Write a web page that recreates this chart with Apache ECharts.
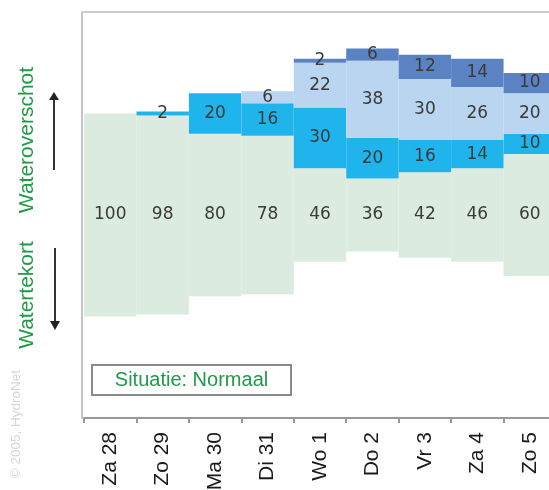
<!DOCTYPE html>
<html>
<head>
<meta charset="utf-8">
<title>Waterverwachting</title>
<script src="https://cdn.jsdelivr.net/npm/echarts@6/dist/echarts.min.js"></script>
<style>
  html, body { margin: 0; padding: 0; background: #ffffff; }
  #chart { width: 549px; height: 490px; }
</style>
</head>
<body>
<div id="chart"></div>
<script>
// Dagen van de verwachting
const days = ['Za 28', 'Zo 29', 'Ma 30', 'Di 31', 'Wo 1', 'Do 2', 'Vr 3', 'Za 4', 'Zo 5'];

// Kans (%) per situatie, van normaal naar steeds meer wateroverschot
const normaal     = [100, 98, 80, 78, 46, 36, 42, 46, 60];
const overschot1  = [0, 2, 20, 16, 30, 20, 16, 14, 10];
const overschot2  = [0, 0, 0, 6, 22, 38, 30, 26, 20];
const overschot3  = [0, 0, 0, 0, 2, 6, 12, 14, 10];

// De band "normaal" ligt steeds gecentreerd rond het midden van de as (100)
const AXIS_MID = 100;
const spacer = normaal.map(v => AXIS_MID - v / 2);

const numLabel = {
  show: true,
  position: 'inside',
  fontFamily: 'DejaVu Sans',
  fontSize: 17,
  color: '#3a3a3a',
  formatter: p => (p.value ? String(p.value) : '')
};

function band(name, data, color) {
  return {
    name, type: 'bar', stack: 'kans', data,
    barCategoryGap: '0%',
    itemStyle: { color },
    label: numLabel,
    emphasis: { disabled: true }
  };
}

const chart = echarts.init(document.getElementById('chart'), null, { renderer: 'canvas' });

const green = '#1f9a48';

chart.setOption({
  animation: false,
  backgroundColor: '#ffffff',
  grid: {
    left: 84, top: 12, right: -7, bottom: 72,
    containLabel: false,
    outerBoundsMode: 'none'
  },
  xAxis: [
    {
      type: 'category',
      data: days,
      boundaryGap: true,
      position: 'bottom',
      axisLine: { show: true, lineStyle: { color: '#999999', width: 2 } },
      axisTick: { show: true, interval: 0, length: 5, lineStyle: { color: '#999999', width: 2 } },
      axisLabel: {
        interval: 0, rotate: 90, margin: 14,
        fontFamily: 'Liberation Sans', fontSize: 21, color: '#1a1a1a'
      },
      splitLine: { show: false }
    },
    {
      type: 'category',
      data: days,
      position: 'top',
      axisLine: { show: true, lineStyle: { color: '#cccccc', width: 2 } },
      axisTick: { show: false },
      axisLabel: { show: false },
      splitLine: { show: false }
    }
  ],
  yAxis: {
    type: 'value', min: 0, max: 200,
    offset: 2,
    axisLine: { show: true, lineStyle: { color: '#c4c4c4', width: 2 } },
    axisTick: { show: false },
    axisLabel: { show: false },
    splitLine: { show: false }
  },
  series: [
    {
      name: 'basis', type: 'bar', stack: 'kans', data: spacer,
      barCategoryGap: '0%', silent: true,
      itemStyle: { color: 'rgba(0,0,0,0)' },
      label: { show: false },
      emphasis: { disabled: true }
    },
    band('Normaal', normaal, '#dcebdf'),
    band('Overschot', overschot1, '#1fb5ec'),
    band('Groot overschot', overschot2, '#b9d5f0'),
    band('Zeer groot overschot', overschot3, '#5b83c4')
  ],
  graphic: [
    // Aslabels links
    {
      type: 'text', x: 27, y: 140, rotation: Math.PI / 2,
      style: {
        text: 'Wateroverschot', fill: green,
        font: '21px "Liberation Sans"', align: 'center', verticalAlign: 'middle'
      }
    },
    {
      type: 'text', x: 27, y: 295, rotation: Math.PI / 2,
      style: {
        text: 'Watertekort', fill: green,
        font: '21px "Liberation Sans"', align: 'center', verticalAlign: 'middle'
      }
    },
    // Pijl omhoog
    {
      type: 'line',
      shape: { x1: 54, y1: 98, x2: 54, y2: 170 },
      style: { stroke: '#333333', lineWidth: 2 }
    },
    {
      type: 'polygon',
      shape: { points: [[54, 92], [49, 100], [59, 100]] },
      style: { fill: '#222222' }
    },
    // Pijl omlaag
    {
      type: 'line',
      shape: { x1: 55, y1: 248, x2: 55, y2: 322 },
      style: { stroke: '#333333', lineWidth: 2 }
    },
    {
      type: 'polygon',
      shape: { points: [[55, 330], [50, 321], [60, 321]] },
      style: { fill: '#222222' }
    },
    // Situatie-kader
    {
      type: 'rect',
      shape: { x: 92, y: 365, width: 199, height: 30 },
      style: { fill: '#ffffff', stroke: '#8a8a8a', lineWidth: 2 }
    },
    {
      type: 'text', x: 191.5, y: 380,
      style: {
        text: 'Situatie: Normaal', fill: green,
        font: '20px "Liberation Sans"', align: 'center', verticalAlign: 'middle'
      }
    },
    // Copyright
    {
      type: 'text', x: 16, y: 424, rotation: Math.PI / 2,
      style: {
        text: '© 2005, HydroNet', fill: '#d6d6d6',
        font: '13.5px "Liberation Sans"', align: 'center', verticalAlign: 'middle'
      }
    }
  ]
});
</script>
</body>
</html>
